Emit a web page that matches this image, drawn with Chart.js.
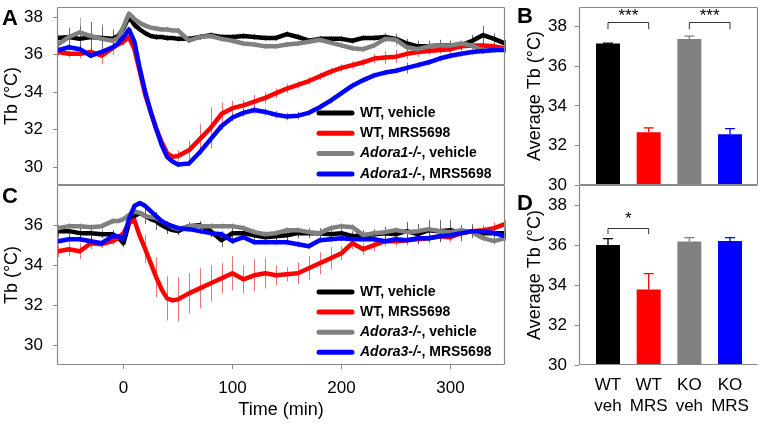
<!DOCTYPE html>
<html>
<head>
<meta charset="utf-8">
<script src="https://cdn.jsdelivr.net/npm/chart.js@4.4.0/dist/chart.umd.min.js"></script>
<style>
  body { margin: 0; background: #fff; width: 760px; height: 425px; position: relative; overflow: hidden; }
  canvas { position: absolute; }
  .panel { position: absolute; font: bold 22px Arial, "Liberation Sans", sans-serif; line-height: 1; color: #000; }
</style>
</head>
<body>
<canvas id="chartA" width="510" height="186" style="left:0;top:0"></canvas>
<canvas id="chartC" width="510" height="245" style="left:0;top:180px"></canvas>
<canvas id="chartB" width="260" height="196" style="left:500px;top:0"></canvas>
<canvas id="chartD" width="260" height="245" style="left:500px;top:180px"></canvas>
<div class="panel" style="left:2px;top:7px">A</div>
<div class="panel" style="left:2px;top:185px">C</div>
<div class="panel" style="left:517px;top:5px">B</div>
<div class="panel" style="left:517px;top:192px">D</div>

<script>
// time points (min) for the body temperature traces
const TIMES = [-60, -50, -40, -30, -20, -10, -5, 0, 5, 10, 15, 20, 25, 30, 35, 40, 45, 50,
  60, 70, 80, 90, 100, 110, 120, 130, 140, 150, 160, 170, 180, 190, 200, 210, 220, 230,
  240, 250, 260, 270, 280, 290, 300, 310, 320, 330, 340, 350];

// panel A (Adora1)
const A_WT_VEH = [36.9, 36.95, 36.85, 36.95, 36.9, 36.85, 37.0, 37.4, 38.05, 37.6, 37.35, 37.15, 37.0, 36.95, 36.95, 36.9, 36.9, 36.85,
  36.85, 36.95, 37.05, 36.95, 36.95, 37.0, 36.95, 36.9, 36.9, 37.1, 36.95, 36.75, 36.85, 36.85, 36.85, 36.75, 36.9, 36.9,
  36.95, 36.85, 36.6, 36.45, 36.45, 36.5, 36.5, 36.5, 36.75, 37.05, 36.85, 36.6];
const A_WT_MRS = [36.15, 36.05, 36.05, 36.15, 35.95, 36.35, 36.55, 36.7, 36.95, 36.3, 35.1, 33.85, 32.95, 32.05, 31.35, 30.75, 30.55, 30.6,
  30.9, 31.5, 32.1, 32.85, 33.15, 33.3, 33.5, 33.7, 33.95, 34.2, 34.4, 34.6, 34.85, 35.1, 35.3, 35.45, 35.6, 35.8,
  35.85, 35.9, 36.05, 36.15, 36.2, 36.25, 36.3, 36.45, 36.5, 36.5, 36.45, 36.35];
const A_KO_VEH = [36.55, 36.95, 37.2, 37.0, 36.85, 36.75, 36.9, 37.5, 38.2, 37.9, 37.7, 37.55, 37.45, 37.4, 37.35, 37.35, 37.3, 37.3,
  36.75, 36.95, 37.0, 36.85, 36.75, 36.6, 36.55, 36.45, 36.45, 36.55, 36.6, 36.7, 36.8, 36.65, 36.5, 36.35, 36.3, 36.5,
  36.85, 36.8, 36.4, 36.3, 36.45, 36.5, 36.5, 36.6, 36.5, 36.2, 36.25, 36.3];
const A_KO_MRS = [36.25, 36.4, 36.3, 35.95, 36.15, 36.4, 36.6, 36.95, 37.35, 36.7, 35.25, 34.0, 32.95, 32.05, 31.2, 30.55, 30.3, 30.15,
  30.2, 30.8, 31.5, 32.2, 32.65, 32.9, 33.05, 32.95, 32.8, 32.7, 32.75, 32.9, 33.2, 33.55, 33.95, 34.35, 34.65, 34.9,
  35.05, 35.15, 35.3, 35.45, 35.6, 35.8, 35.95, 36.05, 36.15, 36.2, 36.25, 36.25];
const A_WT_VEH_SEM = [0.15, 0.5, 0.7, 0.8, 0.6, 0.5, 0, 0.2, 0, 0.2, 0, 0.15, 0, 0.15, 0, 0.15, 0, 0.15,
  0.15, 0.15, 0.15, 0.15, 0.15, 0.15, 0.15, 0.15, 0.15, 0.15, 0.15, 0.15, 0.15, 0.15, 0.15, 0.15, 0.15, 0.15,
  0.2, 0.25, 0.25, 0.3, 0.3, 0.3, 0.25, 0.25, 0.3, 0.5, 0.3, 0.2];
const A_WT_MRS_SEM = [0.2, 0.2, 0.25, 0.3, 0.45, 0.35, 0, 0.2, 0, 0.2, 0, 0.2, 0, 0.2, 0, 0.25, 0, 0.3,
  0.5, 0.8, 1.1, 0.6, 0.4, 0.3, 0.35, 0.3, 0.25, 0.25, 0.2, 0.2, 0.2, 0.2, 0.2, 0.2, 0.2, 0.25,
  0.35, 0.35, 0.3, 0.25, 0.2, 0.2, 0.2, 0.2, 0.2, 0.2, 0.2, 0.2];
const A_KO_VEH_SEM = [0.2, 0.4, 0.8, 0.6, 0.8, 0.4, 0, 0.2, 0, 0.2, 0, 0.15, 0, 0.15, 0, 0.15, 0, 0.15,
  0.15, 0.15, 0.15, 0.15, 0.15, 0.15, 0.15, 0.15, 0.15, 0.15, 0.15, 0.15, 0.15, 0.15, 0.15, 0.15, 0.15, 0.15,
  0.2, 0.35, 0.2, 0.15, 0.15, 0.15, 0.15, 0.15, 0.15, 0.15, 0.15, 0.15];
const A_KO_MRS_SEM = [0.15, 0.15, 0.15, 0.15, 0.15, 0.15, 0, 0.15, 0, 0.15, 0, 0.15, 0, 0.15, 0, 0.15, 0, 0.15,
  0.15, 0.15, 0.15, 0.2, 0.2, 0.2, 0.2, 0.2, 0.2, 0.2, 0.2, 0.15, 0.15, 0.15, 0.15, 0.15, 0.15, 0.15,
  0.15, 0.15, 0.3, 0.15, 0.15, 0.15, 0.15, 0.15, 0.15, 0.15, 0.15, 0.15];

// panel C (Adora3)
const C_WT_VEH = [35.7, 35.7, 35.6, 35.6, 35.55, 35.55, 35.4, 35.1, 36.1, 36.45, 36.6, 36.45, 36.3, 36.2, 36.0, 35.85, 35.75, 35.7,
  35.95, 36.0, 35.7, 35.25, 35.6, 35.6, 35.5, 35.4, 35.45, 35.5, 35.6, 35.6, 35.6, 35.55, 35.6, 35.45, 35.5, 35.55,
  35.6, 35.55, 35.7, 35.55, 35.75, 35.7, 35.75, 35.6, 35.7, 35.6, 35.6, 35.6];
const C_WT_MRS = [34.7, 34.8, 34.7, 35.1, 35.05, 35.2, 35.35, 35.6, 36.1, 36.25, 35.45, 34.8, 34.1, 33.4, 32.8, 32.35, 32.25, 32.3,
  32.6, 32.85, 33.1, 33.35, 33.6, 33.3, 33.5, 33.6, 33.5, 33.55, 33.6, 33.85, 34.1, 34.35, 34.6, 35.1, 34.8, 35.0,
  35.2, 35.2, 35.25, 35.3, 35.35, 35.45, 35.4, 35.6, 35.7, 35.75, 35.85, 36.05];
const C_KO_VEH = [35.85, 35.95, 35.95, 35.9, 35.95, 36.2, 36.2, 36.3, 36.5, 36.7, 36.6, 36.45, 36.4, 36.35, 36.2, 36.05, 35.9, 35.8,
  35.95, 35.95, 35.95, 35.95, 35.95, 35.85, 35.65, 35.55, 35.6, 35.75, 35.75, 35.65, 35.6, 35.85, 35.95, 35.9, 35.5, 35.6,
  35.65, 35.75, 35.65, 35.7, 35.8, 35.7, 35.65, 35.75, 35.65, 35.35, 35.2, 35.35];
const C_KO_MRS = [35.2, 35.3, 35.3, 35.2, 35.1, 35.45, 35.45, 35.3, 36.3, 36.95, 37.1, 36.95, 36.7, 36.45, 36.2, 36.05, 35.95, 35.85,
  35.8, 35.7, 35.6, 35.55, 35.2, 35.4, 35.15, 35.15, 35.15, 35.15, 35.05, 34.95, 35.25, 35.3, 35.35, 35.3, 35.3, 35.3,
  35.2, 35.3, 35.25, 35.35, 35.35, 35.45, 35.5, 35.6, 35.7, 35.7, 35.6, 35.45];
const C_WT_VEH_SEM = [0.3, 0.35, 0.3, 0.3, 0.2, 0.2, 0, 0.2, 0, 0.2, 0, 0.4, 0, 0.45, 0, 0.3, 0, 0.2,
  0.2, 0.2, 0.3, 0.35, 0.3, 0.25, 0.25, 0.25, 0.25, 0.25, 0.25, 0.25, 0.25, 0.25, 0.25, 0.25, 0.25, 0.25,
  0.3, 0.3, 0.45, 0.5, 0.5, 0.55, 0.5, 0.4, 0.35, 0.3, 0.3, 0.25];
const C_WT_MRS_SEM = [0.3, 0.35, 0.4, 0.3, 0.2, 0.2, 0, 0.2, 0, 0.2, 0, 0.7, 0, 1.0, 0, 1.1, 0, 1.1,
  1.0, 1.0, 0.9, 0.75, 0.85, 0.7, 0.8, 0.75, 0.5, 0.35, 0.55, 0.6, 0.55, 0.55, 0.35, 0.3, 0.3, 0.3,
  0.25, 0.25, 0.25, 0.25, 0.25, 0.25, 0.25, 0.25, 0.25, 0.25, 0.3, 0.2];
const C_KO_VEH_SEM = [0.15, 0.15, 0.15, 0.15, 0.15, 0.15, 0, 0.15, 0, 0.15, 0, 0.15, 0, 0.15, 0, 0.15, 0, 0.15,
  0.15, 0.15, 0.15, 0.15, 0.15, 0.15, 0.15, 0.15, 0.15, 0.15, 0.15, 0.15, 0.15, 0.15, 0.15, 0.15, 0.15, 0.15,
  0.15, 0.15, 0.15, 0.15, 0.15, 0.15, 0.15, 0.15, 0.15, 0.15, 0.2, 0.15];
const C_KO_MRS_SEM = [0.15, 0.15, 0.15, 0.15, 0.15, 0.15, 0, 0.15, 0, 0.15, 0, 0.15, 0, 0.15, 0, 0.15, 0, 0.15,
  0.15, 0.15, 0.15, 0.15, 0.15, 0.15, 0.15, 0.15, 0.15, 0.15, 0.15, 0.15, 0.15, 0.15, 0.15, 0.15, 0.15, 0.15,
  0.15, 0.15, 0.15, 0.15, 0.15, 0.15, 0.15, 0.15, 0.15, 0.15, 0.15, 0.15];

// bar panels: average Tb
const BAR_GROUPS = [['WT', 'veh'], ['WT', 'MRS'], ['KO', 'veh'], ['KO', 'MRS']];
const B_MEAN = [37.15, 32.67, 37.38, 32.57];
const B_SEM = [0.02, 0.22, 0.15, 0.28];
const D_MEAN = [36.0, 33.77, 36.17, 36.2];
const D_SEM = [0.32, 0.8, 0.2, 0.17];
const B_SIG = [{ from: 0, to: 1, top: 38.22, leg: 37.88, star: 38.55, text: '***' },
               { from: 2, to: 3, top: 38.22, leg: 37.88, star: 38.55, text: '***' }];
const D_SIG = [{ from: 0, to: 1, top: 36.83, leg: 36.54, star: 37.3, text: '*' }];

const TB_TICKS_A = [30, 32, 34, 36, 38];
const TB_TICKS_C = [30, 32, 34, 36];
const BAR_TICKS = [30, 32, 34, 36, 38];
const TIME_TICKS = [0, 100, 200, 300];
const NAMES_A = [['', 'WT, vehicle'], ['', 'WT, MRS5698'], ['Adora1-/-', ', vehicle'], ['Adora1-/-', ', MRS5698']];
const NAMES_C = [['', 'WT, vehicle'], ['', 'WT, MRS5698'], ['Adora3-/-', ', vehicle'], ['Adora3-/-', ', MRS5698']];

const COLORS = ['#000000', '#ff0000', '#808080', '#0000ff'];
const SEM_COLORS = ['rgba(0,0,0,0.6)', 'rgba(220,0,0,0.55)', 'rgba(110,110,110,0.55)', 'rgba(0,0,230,0.55)'];
const FRAME = '#8a8a8a';
const FONT = 'Arial, "Liberation Sans", sans-serif';

Chart.defaults.font.family = FONT;
Chart.defaults.color = '#000';
Chart.defaults.animation = false;

// grey box round the plot area; sides picked per chart
const framePlugin = {
  id: 'frame',
  afterDraw(chart, args, opts) {
    const { ctx, chartArea: a } = chart;
    const l = Math.round(a.left) + 0.5, r = Math.round(a.right) - 0.5;
    const t = Math.round(a.top) + 0.5, b = Math.round(a.bottom) - 0.5;
    const sides = opts.sides || 'tlrb';
    ctx.save();
    ctx.strokeStyle = FRAME;
    ctx.lineWidth = 1.2;
    ctx.beginPath();
    if (sides.includes('t')) { ctx.moveTo(l, t); ctx.lineTo(r, t); }
    if (sides.includes('b')) { ctx.moveTo(l, b); ctx.lineTo(r, b); }
    if (sides.includes('l')) { ctx.moveTo(l, t); ctx.lineTo(l, b); }
    if (sides.includes('r')) { ctx.moveTo(r, t); ctx.lineTo(r, b); }
    ctx.stroke();
    ctx.restore();
  }
};

// thin SEM whiskers under the traces, every 10 min
const semPlugin = {
  id: 'sem',
  beforeDatasetsDraw(chart) {
    const { ctx, scales: { x, y } } = chart;
    ctx.save();
    ctx.lineWidth = 1;
    chart.data.datasets.forEach(ds => {
      if (!ds.sem) return;
      ctx.strokeStyle = ds.semColor;
      ds.vals.forEach((v, i) => {
        const e = ds.sem[i];
        if (!e || TIMES[i] % 10 !== 0) return;
        const px = Math.round(x.getPixelForValue(TIMES[i])) + 0.5;
        ctx.beginPath();
        ctx.moveTo(px, y.getPixelForValue(v - e));
        ctx.lineTo(px, y.getPixelForValue(v + e));
        ctx.stroke();
      });
    });
    ctx.restore();
  }
};

// legend drawn inside the plot (mixed italic / bold text)
const keyPlugin = {
  id: 'key',
  afterDatasetsDraw(chart, args, opts) {
    if (!opts.names) return;
    const { ctx, chartArea: a } = chart;
    ctx.save();
    opts.names.forEach((n, i) => {
      const y = a.top + opts.top + i * opts.step;
      const x0 = a.left + opts.left;
      ctx.strokeStyle = COLORS[i];
      ctx.lineWidth = 5;
      ctx.lineCap = 'round';
      ctx.beginPath();
      ctx.moveTo(x0, y);
      ctx.lineTo(x0 + 33, y);
      ctx.stroke();
      let tx = x0 + 41;
      ctx.fillStyle = '#000';
      ctx.textBaseline = 'middle';
      if (n[0]) {
        ctx.font = 'italic bold 14px ' + FONT;
        ctx.fillText(n[0], tx, y);
        tx += ctx.measureText(n[0]).width;
      }
      ctx.font = 'bold 14px ' + FONT;
      ctx.fillText(n[1], tx, y);
    });
    ctx.restore();
  }
};

// error bars and significance brackets on the bar panels
const barExtras = {
  id: 'barExtras',
  afterDatasetsDraw(chart, args, opts) {
    const { ctx, scales: { x, y } } = chart;
    ctx.save();
    opts.mean.forEach((m, i) => {
      const px = x.getPixelForValue(i);
      const y0 = y.getPixelForValue(m), y1 = y.getPixelForValue(m + opts.sem[i]);
      ctx.strokeStyle = COLORS[i];
      ctx.lineWidth = 1.3;
      ctx.beginPath();
      ctx.moveTo(px, y0); ctx.lineTo(px, y1);
      ctx.moveTo(px - 5, y1); ctx.lineTo(px + 5, y1);
      ctx.stroke();
    });
    opts.sig.forEach(s => {
      const x0 = x.getPixelForValue(s.from), x1 = x.getPixelForValue(s.to);
      const yt = Math.round(y.getPixelForValue(s.top)) + 0.5, yl = y.getPixelForValue(s.leg);
      ctx.strokeStyle = '#333';
      ctx.lineWidth = 1;
      ctx.beginPath();
      ctx.moveTo(x0, yl); ctx.lineTo(x0, yt); ctx.lineTo(x1, yt); ctx.lineTo(x1, yl);
      ctx.stroke();
      ctx.fillStyle = '#000';
      ctx.font = '17px ' + FONT;
      ctx.textAlign = 'center';
      ctx.textBaseline = 'middle';
      ctx.fillText(s.text, (x0 + x1) / 2, y.getPixelForValue(s.star));
    });
    ctx.restore();
  }
};

function traces(series, sems) {
  return series.map((vals, i) => ({
    data: TIMES.map((t, j) => ({ x: t, y: vals[j] })),
    vals: vals,
    sem: sems[i],
    semColor: SEM_COLORS[i],
    borderColor: COLORS[i],
    borderWidth: 4.5,
    pointRadius: 0,
    tension: 0,
    borderJoinStyle: 'round',
    borderCapStyle: 'round',
    order: 4 - i
  }));
}

function tbAxis(min, max, ticks) {
  return {
    min: min, max: max,
    afterBuildTicks: s => { s.ticks = ticks.map(v => ({ value: v })); },
    afterFit: s => { s.width = 57; s.paddingTop = 0; s.paddingBottom = 0; },
    grid: { drawOnChartArea: false, tickLength: 4, color: FRAME },
    border: { display: false },
    ticks: { padding: 10, font: { size: 17 } },
    title: { display: true, text: 'Tb (°C)', font: { size: 18 }, padding: { top: 1, bottom: 0 } }
  };
}

new Chart(document.getElementById('chartA'), {
  type: 'line',
  data: { datasets: traces([A_WT_VEH, A_WT_MRS, A_KO_VEH, A_KO_MRS], [A_WT_VEH_SEM, A_WT_MRS_SEM, A_KO_VEH_SEM, A_KO_MRS_SEM]) },
  options: {
    responsive: false,
    layout: { padding: { top: 7, bottom: 1, right: 5, left: 0 } },
    plugins: { legend: { display: false }, tooltip: { enabled: false },
      key: { names: NAMES_A, left: 262, top: 106, step: 20.3 }, frame: { sides: 'tlrb' } },
    scales: {
      x: { type: 'linear', min: -61, max: 350, display: false },
      y: tbAxis(29.05, 38.55, TB_TICKS_A)
    }
  },
  plugins: [semPlugin, keyPlugin, framePlugin]
});

new Chart(document.getElementById('chartC'), {
  type: 'line',
  data: { datasets: traces([C_WT_VEH, C_WT_MRS, C_KO_VEH, C_KO_MRS], [C_WT_VEH_SEM, C_WT_MRS_SEM, C_KO_VEH_SEM, C_KO_MRS_SEM]) },
  options: {
    responsive: false,
    layout: { padding: { top: 5, bottom: 0, right: 5, left: 0 } },
    plugins: { legend: { display: false }, tooltip: { enabled: false },
      key: { names: NAMES_C, left: 262, top: 107, step: 20.1 }, frame: { sides: 'tlrb' } },
    scales: {
      x: {
        type: 'linear', min: -61, max: 350,
        afterBuildTicks: s => { s.ticks = TIME_TICKS.map(v => ({ value: v })); },
        afterFit: s => { s.height = 60; s.paddingLeft = 0; s.paddingRight = 0; },
        grid: { drawOnChartArea: false, tickLength: 4, color: FRAME },
        border: { display: false },
        ticks: { padding: 9, font: { size: 17 }, maxRotation: 0 },
        title: { display: true, text: 'Time (min)', font: { size: 18 }, padding: { top: 0, bottom: 4 } }
      },
      y: tbAxis(29.03, 38.0, TB_TICKS_C)
    }
  },
  plugins: [semPlugin, keyPlugin, framePlugin]
});

function barChart(id, mean, sem, sig, showLabels, height, pad) {
  return new Chart(document.getElementById(id), {
    type: 'bar',
    data: {
      datasets: [{
        data: mean.map((v, i) => ({ x: i, y: v })),
        backgroundColor: COLORS,
        barPercentage: 0.59,
        categoryPercentage: 1
      }]
    },
    options: {
      responsive: false,
      layout: { padding: pad },
      plugins: { legend: { display: false }, tooltip: { enabled: false },
        barExtras: { mean: mean, sem: sem, sig: sig },
        frame: { sides: showLabels ? 'tlb' : 'tlrb' } },
      scales: {
        x: {
          type: 'linear', min: -0.713, max: 3.688, offset: false,
          display: showLabels,
          afterBuildTicks: s => { s.ticks = BAR_GROUPS.map((g, i) => ({ value: i })); },
          afterFit: s => { s.height = height; s.paddingLeft = 0; s.paddingRight = 0; },
          grid: { display: false, offset: false },
          border: { display: false },
          ticks: { padding: 1, autoSkip: false, maxRotation: 0, font: { size: 17, lineHeight: 1.28 },
            callback: (v, i) => BAR_GROUPS[i] }
        },
        y: {
          min: 30, max: 39,
          afterBuildTicks: s => { s.ticks = BAR_TICKS.map(v => ({ value: v })); },
          afterFit: s => { s.width = 79; s.paddingTop = 0; s.paddingBottom = 0; },
          grid: { drawOnChartArea: false, tickLength: 4, color: FRAME },
          border: { display: false },
          ticks: { padding: 8, font: { size: 17 } },
          title: { display: true, text: 'Average Tb (°C)', font: { size: 18 }, padding: { top: 24, bottom: 0 } }
        }
      }
    },
    plugins: [barExtras, framePlugin]
  });
}

barChart('chartB', B_MEAN, B_SEM, B_SIG, false, 0, { top: 7, bottom: 11, right: 2, left: 0 });
barChart('chartD', D_MEAN, D_SEM, D_SIG, true, 60, { top: 5, bottom: 0, right: 2, left: 0 });
</script>
</body>
</html>
